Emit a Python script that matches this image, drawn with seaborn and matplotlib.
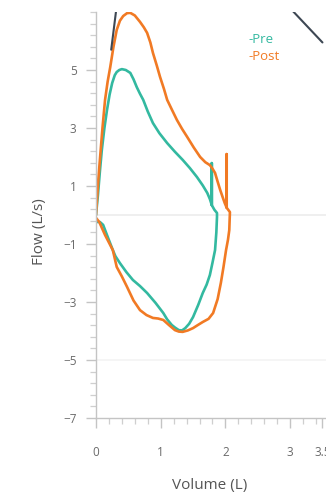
import numpy as np
import pandas as pd
import matplotlib
matplotlib.use("Agg")
import matplotlib.pyplot as plt
from matplotlib.ticker import AutoMinorLocator
import seaborn as sns

# Flow-volume loops: expiration (positive flow) then inspiration (negative flow)
pre_volume = [0.00, 0.03, 0.06, 0.09, 0.13, 0.17, 0.21, 0.25, 0.29, 0.32, 0.36, 0.40,
              0.46, 0.53, 0.58, 0.63, 0.68, 0.73, 0.80, 0.88, 0.98, 1.10, 1.22, 1.34,
              1.45, 1.56, 1.65, 1.72, 1.76, 1.79, 1.79, 1.79, 1.83, 1.87,
              1.87, 1.86, 1.84, 1.80, 1.76, 1.71, 1.65, 1.58, 1.50, 1.44, 1.38, 1.33,
              1.28, 1.22, 1.17, 1.10, 1.04, 0.92, 0.79, 0.68, 0.57, 0.47, 0.37, 0.30,
              0.26, 0.18, 0.11, 0.06, 0.00]
pre_flow = [0.00, 0.69, 1.50, 2.24, 3.00, 3.62, 4.15, 4.55, 4.82, 4.93, 5.00, 5.03,
            5.00, 4.90, 4.68, 4.41, 4.18, 3.97, 3.57, 3.17, 2.82, 2.48, 2.18, 1.90,
            1.62, 1.31, 1.02, 0.76, 0.55, 0.34, 1.79, 0.34, 0.18, 0.07,
            -0.07, -0.60, -1.21, -1.65, -2.07, -2.40, -2.69, -3.10, -3.52, -3.75, -3.90, -3.98,
            -3.97, -3.88, -3.79, -3.60, -3.38, -3.03, -2.69, -2.45, -2.24, -1.97, -1.66, -1.42,
            -1.21, -0.75, -0.34, -0.24, -0.24]

post_volume = [0.00, 0.015, 0.035, 0.06, 0.10, 0.14, 0.18, 0.22, 0.27, 0.32, 0.37, 0.42,
               0.48, 0.53, 0.60, 0.68, 0.74, 0.79, 0.84, 0.88, 0.94, 0.99, 1.05, 1.10,
               1.18, 1.25, 1.33, 1.41, 1.51, 1.61, 1.69, 1.76, 1.80, 1.84, 1.88, 1.92,
               1.96, 1.99, 2.02, 2.02, 2.02, 2.07,
               2.065, 2.06, 2.04, 2.01, 1.97, 1.93, 1.88, 1.81, 1.74, 1.65, 1.57, 1.50,
               1.42, 1.34, 1.28, 1.22, 1.13, 1.04, 0.96, 0.88, 0.78, 0.68, 0.58, 0.48,
               0.40, 0.32, 0.26, 0.20, 0.14, 0.05, 0.00]
post_flow = [0.00, 0.52, 1.20, 1.90, 3.00, 3.97, 4.60, 5.10, 5.80, 6.38, 6.70, 6.86,
             6.96, 6.97, 6.88, 6.66, 6.47, 6.28, 5.95, 5.59, 5.15, 4.76, 4.35, 3.97,
             3.60, 3.28, 2.97, 2.69, 2.33, 2.00, 1.82, 1.72, 1.60, 1.45, 1.15, 0.86,
             0.60, 0.41, 0.25, 2.10, 0.25, 0.10,
             -0.20, -0.52, -0.85, -1.21, -1.80, -2.34, -2.90, -3.38, -3.58, -3.69, -3.80, -3.90,
             -3.98, -4.03, -4.02, -3.97, -3.80, -3.62, -3.57, -3.55, -3.45, -3.28, -2.95, -2.48,
             -2.12, -1.79, -1.21, -0.95, -0.69, -0.24, -0.10]

# Predicted reference segments
ref_a_volume = [0.235, 0.325]
ref_a_flow = [5.70, 7.30]
ref_b_volume = [2.95, 3.50]
ref_b_flow = [7.25, 5.95]

x_ticks = [0, 1, 2, 3, 3.5]
x_tick_labels = ["0", "1", "2", "3", "3.5"]
y_ticks = [-7, -5, -3, -1, 1, 3, 5]

PRE_COLOR = "#33b9a0"
POST_COLOR = "#f17a24"
REF_COLOR = "#3d4753"

sns.set_theme(style="white")
plt.rcParams["font.family"] = ["Open Sans", "DejaVu Sans"]

W, H = 326, 497
fig = plt.figure(figsize=(W / 100, H / 100), dpi=100)
fig.patch.set_facecolor("white")

left_px, px_per_unit = 96, 64.7
xmax = 3.6
top_px, bottom_px = 12, 418
ax = fig.add_axes([left_px / W, (H - bottom_px) / H,
                   xmax * px_per_unit / W, (bottom_px - top_px) / H])
ax.set_facecolor("white")

pre_df = pd.DataFrame({"volume": pre_volume, "flow": pre_flow})
post_df = pd.DataFrame({"volume": post_volume, "flow": post_flow})

ax.axhline(0, color="#ececec", lw=1.2, zorder=0)
ax.axhline(-5, color="#f3f3f3", lw=1.2, zorder=0)

sns.lineplot(data=pre_df, x="volume", y="flow", sort=False, estimator=None,
             color=PRE_COLOR, lw=1.9, ax=ax)
sns.lineplot(data=post_df, x="volume", y="flow", sort=False, estimator=None,
             color=POST_COLOR, lw=1.9, ax=ax)
sns.lineplot(x=ref_a_volume, y=ref_a_flow, sort=False, estimator=None,
             color=REF_COLOR, lw=1.5, ax=ax)
sns.lineplot(x=ref_b_volume, y=ref_b_flow, sort=False, estimator=None,
             color=REF_COLOR, lw=1.5, ax=ax)
for line in ax.lines:
    line.set_solid_joinstyle("round")

ax.set_xlim(0, xmax)
ax.set_ylim(-7, 7)

ax.set_xticks(x_ticks)
ax.set_xticklabels(x_tick_labels)
ax.set_yticks(y_ticks)
ax.xaxis.set_minor_locator(AutoMinorLocator(5))
ax.yaxis.set_minor_locator(AutoMinorLocator(5))

for side in ["top", "right"]:
    ax.spines[side].set_visible(False)
for side in ["left", "bottom"]:
    ax.spines[side].set_color("#c4c4c4")
    ax.spines[side].set_linewidth(1.0)

ax.tick_params(axis="both", which="major", length=7, width=1.0, color="#c4c4c4",
               labelsize=8.5, labelcolor="#6a6a6a", direction="out",
               bottom=True, left=True)
ax.tick_params(axis="x", which="major", pad=13)
ax.tick_params(axis="y", which="major", pad=7)
ax.tick_params(axis="both", which="minor", length=4, width=0.9, color="#cfcfcf",
               direction="out", bottom=True, left=True)

ax.set_xlabel("Volume (L)", fontsize=11, color="#555555")
ax.set_ylabel("Flow (L/s)", fontsize=11, color="#555555")
ax.yaxis.label.set_va("center")
ax.xaxis.label.set_va("center")
ax.yaxis.set_label_coords(-(96 - 40) / (xmax * px_per_unit), (418 - 232) / (bottom_px - top_px))
ax.xaxis.set_label_coords((210 - left_px) / (xmax * px_per_unit), -(485 - 418) / (bottom_px - top_px))

ax.text(2.36, 6.05, "-Pre", color=PRE_COLOR, fontsize=9.5, va="center", ha="left")
ax.text(2.36, 5.45, "-Post", color=POST_COLOR, fontsize=9.5, va="center", ha="left")

fig.savefig("out.png", dpi=100, facecolor="white")
